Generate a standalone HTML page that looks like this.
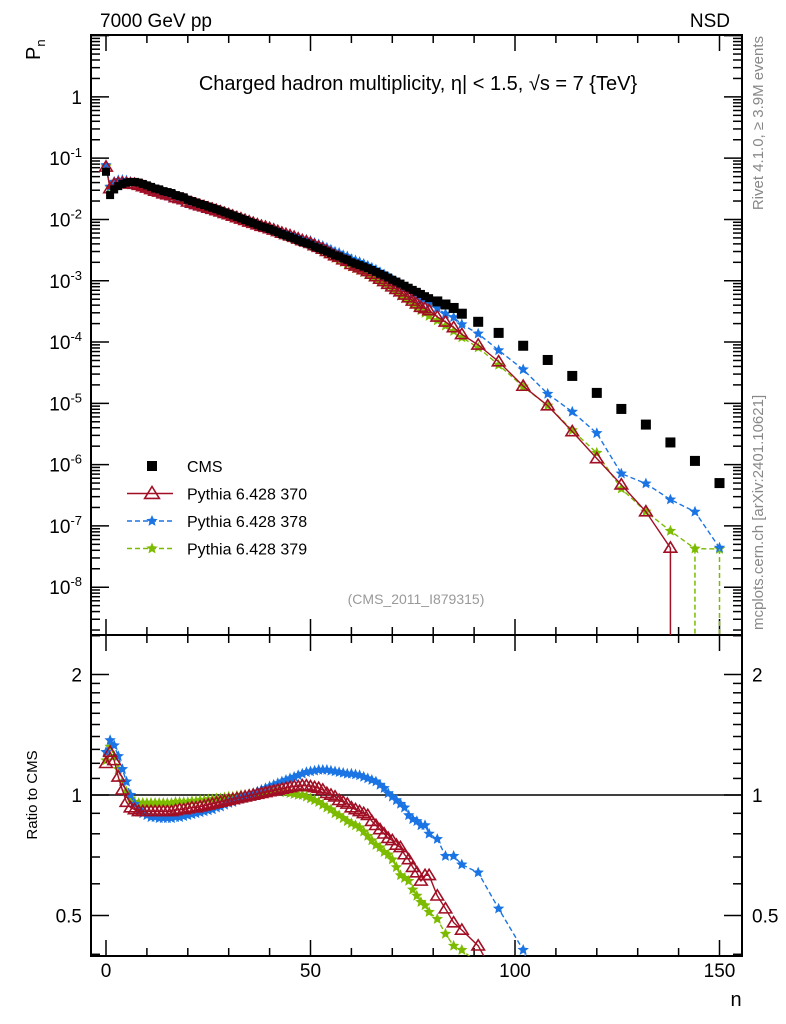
<!DOCTYPE html>
<html><head><meta charset="utf-8">
<style>
html,body{margin:0;padding:0;background:#fff;width:786px;height:1024px;overflow:hidden;}
svg{display:block;font-family:"Liberation Sans",sans-serif;}
</style></head>
<body>
<svg id="chart" width="786" height="1024" viewBox="0 0 786 1024" xmlns="http://www.w3.org/2000/svg">
<defs>
<clipPath id="clipMain"><rect x="91" y="35" width="651" height="600"/></clipPath>
<clipPath id="clipRatio"><rect x="91" y="635" width="651" height="321"/></clipPath>
</defs>
<text x="100" y="27" font-size="19">7000 GeV pp</text>
<text x="730" y="27" font-size="19" text-anchor="end">NSD</text>
<text x="418" y="90" font-size="20" text-anchor="middle">Charged hadron multiplicity, η| &lt; 1.5, √s = 7 {TeV}</text>
<text transform="translate(40,60) rotate(-90)" font-size="20">P<tspan font-size="13" dy="5">n</tspan></text>
<text transform="translate(37,795) rotate(-90)" font-size="15" text-anchor="middle">Ratio to CMS</text>
<text x="736" y="1006" font-size="20" text-anchor="middle">n</text>
<text transform="translate(763,36) rotate(-90)" font-size="15" fill="#888" text-anchor="end">Rivet 4.1.0, ≥ 3.9M events</text>
<text transform="translate(763,630) rotate(-90)" font-size="15" fill="#888">mcplots.cern.ch [arXiv:2401.10621]</text>
<text x="416" y="604" font-size="14" fill="#999" text-anchor="middle">(CMS_2011_I879315)</text>
<g id="axes"></g>
<g id="mainData" clip-path="url(#clipMain)"></g>
<g id="ratioData" clip-path="url(#clipRatio)"></g>
<g id="legend"></g>
</svg>
<script>
const nBins=[0,1,2,3,4,5,6,7,8,9,10,11,12,13,14,15,16,17,18,19,20,21,22,23,24,25,26,27,28,29,30,31,32,33,34,35,36,37,38,39,40,41,42,43,44,45,46,47,48,49,50,51,52,53,54,55,56,57,58,59,60,61,62,63,64,65,66,67,68,69,70,71,72,73,74,75,76,77,78,79,81,83,85,87,91,96,102,108,114,120,126,132,138,144,150];
const cmsP=[0.060,0.025,0.031,0.035,0.038,0.040,0.041,0.041,0.040,0.038,0.036,0.034,0.032,0.031,0.029,0.028,0.027,0.025,0.024,0.023,0.021,0.020,0.019,0.018,0.0172,0.0163,0.0155,0.0147,0.0139,0.0131,0.0124,0.0117,0.0110,0.0104,0.0098,0.0092,0.0087,0.0082,0.0077,0.0074,0.0070,0.0066,0.0062,0.0058,0.0055,0.0052,0.0049,0.0046,0.0043,0.0041,0.0039,0.0036,0.0034,0.0032,0.0030,0.0028,0.0026,0.0025,0.0023,0.0022,0.0020,0.0019,0.0018,0.0017,0.0016,0.0015,0.0014,0.0013,0.00122,0.00113,0.00104,0.00097,0.00090,0.00083,0.00077,0.00071,0.00066,0.00061,0.00056,0.00052,0.00046,0.00041,0.00036,0.00029,0.000214,0.000141,8.7e-5,5.1e-5,2.8e-5,1.48e-5,8.1e-6,4.5e-6,2.3e-6,1.15e-6,5.0e-7];
const ratio370=[1.20,1.28,1.22,1.11,1.03,0.96,0.93,0.92,0.91,0.91,0.91,0.91,0.91,0.91,0.91,0.91,0.91,0.915,0.92,0.92,0.925,0.93,0.93,0.935,0.94,0.945,0.95,0.955,0.96,0.965,0.97,0.975,0.98,0.985,0.99,0.995,1.0,1.005,1.01,1.015,1.02,1.025,1.03,1.035,1.04,1.045,1.05,1.05,1.055,1.055,1.05,1.045,1.04,1.03,1.01,1.0,0.99,0.97,0.96,0.95,0.93,0.92,0.91,0.90,0.89,0.86,0.84,0.82,0.80,0.78,0.77,0.75,0.74,0.71,0.69,0.66,0.64,0.61,0.63,0.63,0.56,0.52,0.48,0.46,0.42,0.34,0.22,0.18,0.124,0.085,0.058,0.038,0.019,null,null];
const ratio378=[1.28,1.37,1.33,1.25,1.16,1.08,1.0,0.95,0.92,0.90,0.89,0.88,0.88,0.875,0.875,0.875,0.875,0.88,0.88,0.885,0.89,0.895,0.90,0.905,0.91,0.915,0.92,0.93,0.935,0.945,0.955,0.96,0.97,0.98,0.99,1.0,1.01,1.02,1.03,1.04,1.05,1.06,1.07,1.08,1.09,1.10,1.11,1.12,1.13,1.14,1.145,1.15,1.155,1.155,1.155,1.15,1.145,1.14,1.135,1.13,1.13,1.125,1.12,1.11,1.10,1.09,1.08,1.06,1.04,1.01,0.99,0.97,0.95,0.93,0.89,0.87,0.86,0.84,0.84,0.80,0.776,0.704,0.704,0.67,0.64,0.52,0.41,0.28,0.26,0.22,0.088,0.109,0.117,0.148,0.088];
const ratio379=[1.22,1.32,1.25,1.16,1.08,1.02,0.98,0.96,0.955,0.955,0.955,0.955,0.955,0.955,0.955,0.955,0.955,0.96,0.96,0.96,0.96,0.965,0.965,0.97,0.97,0.975,0.975,0.98,0.98,0.985,0.99,0.99,0.995,1.0,1.0,1.005,1.01,1.01,1.015,1.02,1.02,1.02,1.025,1.02,1.015,1.01,1.005,1.0,1.0,0.99,0.98,0.97,0.96,0.945,0.93,0.92,0.90,0.89,0.875,0.86,0.85,0.84,0.83,0.81,0.79,0.77,0.75,0.74,0.72,0.71,0.69,0.66,0.63,0.62,0.61,0.58,0.56,0.54,0.53,0.51,0.49,0.45,0.42,0.41,0.38,0.30,0.215,0.18,0.13,0.105,0.05,0.038,0.036,0.037,0.084];
const xTicks=[0,50,100,150];
const yTickExps=[0,-1,-2,-3,-4,-5,-6,-7,-8];
const ratioTicks=[2,1,0.5];
const ratioTickLabels=["2","1","0.5"];

const NS="http://www.w3.org/2000/svg";
const X0=91,X1=742,YT=35,YM=635,YB=956;
const xS=n=>106+n*4.09;
const LMIN=-8.78,LMAX=1.01;
const yMain=v=>YM-(Math.log10(v)-LMIN)/(LMAX-LMIN)*(YM-YT);
const yRat=r=>795-Math.log2(r)*120.5;
const RED="#a10f24",BLUE="#1b74e4",GREEN="#7cbb00";
function mk(tag,attrs,parent){const e=document.createElementNS(NS,tag);for(const k in attrs)e.setAttribute(k,attrs[k]);parent.appendChild(e);return e;}
const axes=document.getElementById('axes');

let fr=mk('rect',{x:X0,y:YT,width:X1-X0,height:YM-YT,fill:'none',stroke:'#000','stroke-width':2},axes);


let fr2=mk('rect',{x:X0,y:YM,width:X1-X0,height:YB-YM,fill:'none',stroke:'#000','stroke-width':2},axes);



for(let n=0;n<=155;n+=10){
  const major=n%50===0;
  const L=major?16:8;
  for(const yb of [YM,YB]){
    mk('line',{x1:xS(n),x2:xS(n),y1:yb,y2:yb-L,stroke:'#000','stroke-width':1.5},axes);
    mk('line',{x1:xS(n),x2:xS(n),y1:(yb===YM?YT:YM),y2:(yb===YM?YT:YM)+L,stroke:'#000','stroke-width':1.5},axes);
  }
}
xTicks.forEach(t=>{
  const tx=mk('text',{x:xS(t),y:977,'font-size':19,'text-anchor':'middle'},axes);
  tx.textContent=String(t);
  
  
});
for(let e=-9;e<=1;e++){
  for(let m=1;m<10;m++){
    const v=m*Math.pow(10,e);
    const y=yMain(v);
    if(y<YT||y>YM)continue;
    const L=m===1?18:9;
    mk('line',{x1:X0,x2:X0+L,y1:y,y2:y,stroke:'#000','stroke-width':1.5},axes);
    mk('line',{x1:X1,x2:X1-L,y1:y,y2:y,stroke:'#000','stroke-width':1.5},axes);
  }
}
yTickExps.forEach(e=>{
  const y=yMain(Math.pow(10,e));
  const tx=mk('text',{x:82,y:y+7,'font-size':19,'text-anchor':'end'},axes);
  if(e===0){tx.textContent='1';}
  else{tx.textContent='10';const ts=mk('tspan',{dy:-8,'font-size':13},tx);ts.textContent=String(e);}
  
  
});
[0.4,0.5,0.6,0.7,0.8,0.9,1,1.1,1.2,1.3,1.4,1.5,1.6,1.7,1.8,1.9,2,2.5].forEach(r=>{
  const y=yRat(r);if(y<YM||y>YB)return;
  const L=(r===0.5||r===1||r===2)?18:9;
  mk('line',{x1:X0,x2:X0+L,y1:y,y2:y,stroke:'#000','stroke-width':1.5},axes);
  mk('line',{x1:X1,x2:X1-L,y1:y,y2:y,stroke:'#000','stroke-width':1.5},axes);
});
ratioTicks.forEach((r,i)=>{
  for(const [xx,anc] of [[82,'end'],[752,'start']]){
    const tx=mk('text',{x:xx,y:yRat(r)+7,'font-size':19,'text-anchor':anc},axes);
    tx.textContent=ratioTickLabels[i];
    
    
  }
});
let ref=mk('line',{x1:X0,x2:X1,y1:yRat(1),y2:yRat(1),stroke:'#000','stroke-width':1.5},axes);



function star(cx,cy,r,col,parent){
  let p=[];for(let i=0;i<10;i++){const a=-Math.PI/2+i*Math.PI/5;const rr=i%2?r*0.45:r;p.push((cx+rr*Math.cos(a)).toFixed(1)+','+(cy+rr*Math.sin(a)).toFixed(1));}
  return mk('polygon',{points:p.join(' '),fill:col},parent);
}
function tri(cx,cy,r,col,parent){
  return mk('polygon',{points:`${cx},${cy-r} ${cx-r*1.05},${cy+r*0.7} ${cx+r*1.05},${cy+r*0.7}`,fill:'none',stroke:col,'stroke-width':1.6},parent);
}
const mainG=document.getElementById('mainData');
const ratG=document.getElementById('ratioData');

function series(ratios,col,dash,kind,name){
  const gm=mk('g',{},mainG);
  
  
  const gr=mk('g',{},ratG);
  
  
  let pm=[],pr=[];
  nBins.forEach((n,i)=>{const r=ratios[i];if(r==null)return;pm.push([xS(n),yMain(cmsP[i]*r)]);pr.push([xS(n),yRat(r)]);});
  const at={fill:'none',stroke:col,'stroke-width':1.4};if(dash)at['stroke-dasharray']=dash;
  mk('polyline',Object.assign({points:pm.map(p=>p.join(',')).join(' ')},at),gm);
  mk('polyline',Object.assign({points:pr.map(p=>p.join(',')).join(' ')},at),gr);
  pm.forEach(p=>{kind==='tri'?tri(p[0],p[1],6,col,gm):star(p[0],p[1],6,col,gm);});
  pr.forEach(p=>{kind==='tri'?tri(p[0],p[1],6,col,gr):star(p[0],p[1],6,col,gr);});
  return gm;
}
const g379=series(ratio379,GREEN,'5,3','star','pythia-379');
const g378=series(ratio378,BLUE,'5,3','star','pythia-378');
const g370=series(ratio370,RED,null,'tri','pythia-370');
[[138,ratio370,RED,null],[144,ratio379,GREEN,'5,3'],[150,ratio379,GREEN,'5,3']].forEach(([n,arr,col,d])=>{
  const i=nBins.indexOf(n);const y=yMain(cmsP[i]*arr[i]);
  const a={x1:xS(n),x2:xS(n),y1:y,y2:YM,stroke:col,'stroke-width':1.5};if(d)a['stroke-dasharray']=d;
  const l=mk('line',a,mainG);
  
  
});
const gc=mk('g',{},mainG);


nBins.forEach((n,i)=>{
  const s=n>80?10:8;
  mk('rect',{x:xS(n)-s/2,y:yMain(cmsP[i])-s/2,width:s,height:s,fill:'#000'},gc);
});

const lg=document.getElementById('legend');
const entries=[['CMS','sq','#000',null],['Pythia 6.428 370','tri',RED,null],['Pythia 6.428 378','star',BLUE,'5,3'],['Pythia 6.428 379','star',GREEN,'5,3']];
entries.forEach((e,i)=>{
  const y=466+i*27.5;
  const g=mk('g',{},lg);
  
  
  if(e[1]==='sq'){mk('rect',{x:147,y:y-5,width:10,height:10,fill:'#000'},g);}
  else{
    const a={x1:127,x2:173,y1:y,y2:y,stroke:e[2],'stroke-width':1.4};if(e[3])a['stroke-dasharray']=e[3];
    mk('line',a,g);
    e[1]==='tri'?tri(152,y,7,e[2],g):star(152,y,6,e[2],g);
  }
  const t=mk('text',{x:187,y:y+6,'font-size':16},g);
  t.textContent=e[0];
});
</script>
</body></html>
